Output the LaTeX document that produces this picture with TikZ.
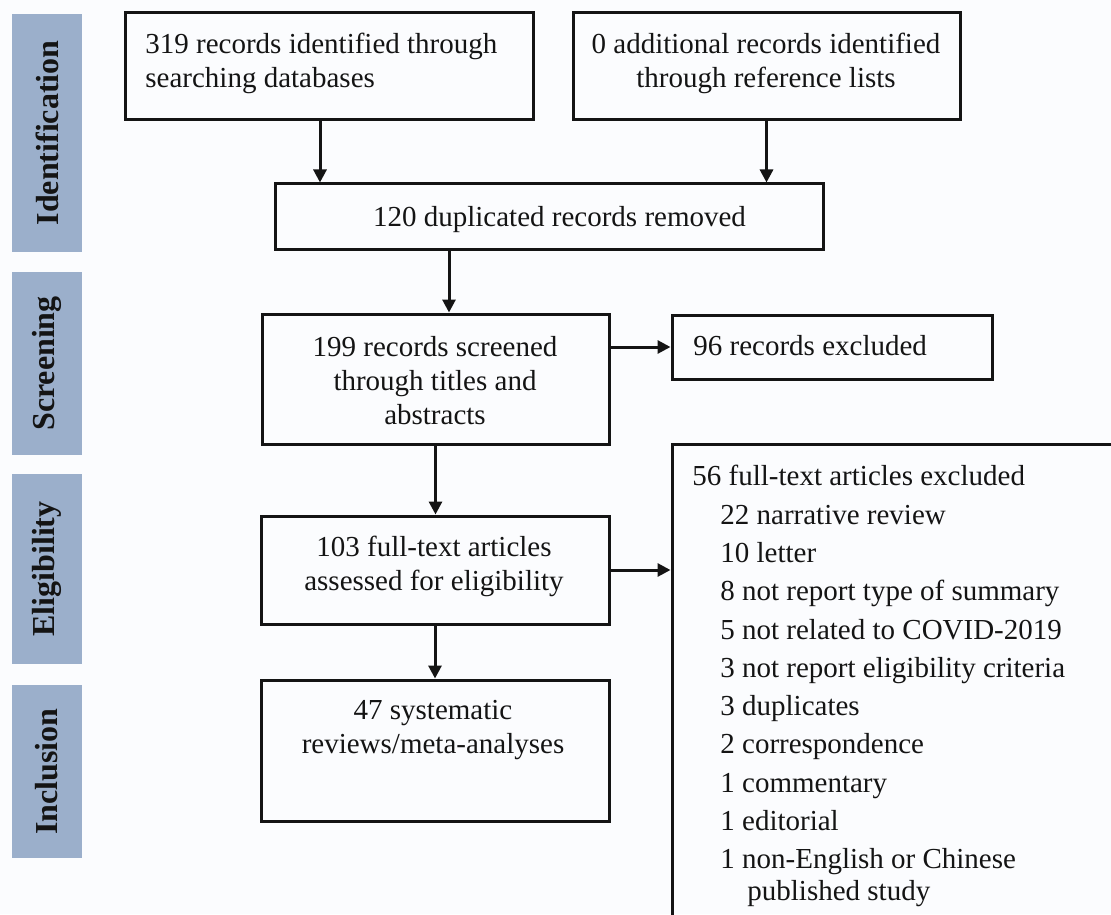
\documentclass[tikz,border=0pt]{standalone}
\usepackage{fontspec}
\setmainfont{Liberation Serif}
\usetikzlibrary{arrows.meta}
\definecolor{barblue}{RGB}{155,175,203}
\definecolor{bg}{RGB}{251,252,254}
\definecolor{ink}{RGB}{20,20,20}
\begin{document}
\begin{tikzpicture}[x=0.5pt,y=-0.5pt,
  box/.style={draw=ink, line width=1.5pt, inner sep=0pt},
  txt/.style={font=\fontsize{14.5}{17}\selectfont, inner sep=0pt, text=ink},
  listtxt/.style={font=\fontsize{14.5}{19.15}\selectfont, inner sep=0pt, text=ink, align=left},
  bar/.style={fill=barblue, rotate=90, inner sep=0pt, minimum height=35pt,
    font=\fontsize{16}{16}\bfseries\selectfont, text=ink},
  arr/.style={draw=ink, line width=1.5pt, -{Triangle[length=6.5pt,width=6.5pt]}}]
\useasboundingbox (0,0) rectangle (1111,914);
\clip (0,0) rectangle (1111,914);
\fill[bg] (0,0) rectangle (1111,914);

% stage bars
\node[bar, minimum width=119pt] (l1) at (47,133) {Identification};
\node[bar, minimum width=91.5pt] (l2) at (47,363.5) {Screening};
\node[bar, minimum width=95pt] (l3) at (47,569) {Eligibility};
\node[bar, minimum width=86.5pt] (l4) at (47,771.5) {Inclusion};

% boxes
\node[box, minimum width=204pt, minimum height=53.5pt] (b1) at (329,66.5) {};
\node[box, minimum width=193.5pt, minimum height=53.5pt] (b2) at (766.5,66.5) {};
\node[box, minimum width=274pt, minimum height=33pt] (b3) at (549,217) {};
\node[box, minimum width=173.5pt, minimum height=65pt] (b4) at (435.5,379) {};
\node[box, minimum width=160pt, minimum height=32pt] (b5) at (832,347) {};
\node[box, minimum width=174pt, minimum height=54pt] (b6) at (435,570) {};
\node[box, minimum width=229pt, minimum height=248pt] (b7) at (901,692) {};
\node[box, minimum width=174pt, minimum height=70.5pt] (b8) at (435,750.5) {};

% texts
\node[txt, anchor=west, align=left] (t1) at (145,63) {319 records identified through\\searching databases};
\node[txt, align=center] (t2) at (766,63) {0 additional records identified\\through reference lists};
\node[txt] (t3) at (559.5,220) {120 duplicated records removed};
\node[txt, align=center] (t4) at (435,381) {199 records screened\\through titles and\\abstracts};
\node[txt, anchor=base west] (t5) at (693,355) {96 records excluded};
\node[txt, align=center] (t6) at (434,566.5) {103 full-text articles\\assessed for eligibility};
\node[txt, align=center] (t8) at (433,730.5) {47 systematic\\reviews/meta-analyses};
\node[listtxt, anchor=north west] (t7) at (692,465) {56 full-text articles excluded\\
\hspace*{14pt}22 narrative review\\
\hspace*{14pt}10 letter\\
\hspace*{14pt}8 not report type of summary\\
\hspace*{14pt}5 not related to COVID-2019\\
\hspace*{14pt}3 not report eligibility criteria\\
\hspace*{14pt}3 duplicates\\
\hspace*{14pt}2 correspondence\\
\hspace*{14pt}1 commentary\\
\hspace*{14pt}1 editorial\\
\hspace*{14pt}1 non-English or Chinese\\[-3.3pt]
\hspace*{27.5pt}published study};

% connectors
\coordinate (xa) at (320,0);
\coordinate (xb) at (449,0);
\draw[arr] (xa |- b1.south) -- (xa |- b3.north);
\draw[arr] (b2.south) -- (b2.south |- b3.north);
\draw[arr] (xb |- b3.south) -- (xb |- b4.north);
\draw[arr] (b4.east |- b5.west) -- (b5.west);
\draw[arr] (b4.south) -- (b4.south |- b6.north);
\draw[arr] (b6.east) -- (b6.east -| b7.west);
\draw[arr] (b6.south) -- (b6.south |- b8.north);
\end{tikzpicture}
\end{document}
